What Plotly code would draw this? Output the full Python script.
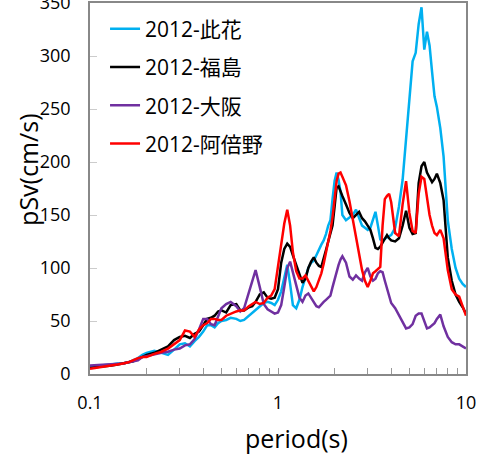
import plotly.graph_objects as go

# periods (s) shared by all four spectra
periods = [0.10, 0.11, 0.12, 0.13, 0.14, 0.15, 0.16, 0.17, 0.18, 0.19,
           0.20, 0.22, 0.24, 0.26, 0.28, 0.30, 0.32, 0.34, 0.36, 0.38,
           0.40, 0.42, 0.44, 0.46, 0.48, 0.50, 0.53, 0.56, 0.60, 0.63,
           0.66, 0.70, 0.73, 0.76, 0.80, 0.84, 0.88, 0.92, 0.96, 1.00,
           1.04, 1.08, 1.12, 1.16, 1.20, 1.25, 1.30, 1.35, 1.40, 1.45,
           1.50, 1.55, 1.60, 1.65, 1.70, 1.75, 1.80, 1.85, 1.90, 1.95,
           2.00, 2.05, 2.10, 2.15, 2.20, 2.30, 2.40, 2.50, 2.60, 2.70,
           2.80, 2.90, 3.00, 3.10, 3.20, 3.30, 3.40, 3.50, 3.60, 3.70,
           3.80, 3.90, 4.00, 4.20, 4.40, 4.60, 4.80, 5.00, 5.20, 5.40,
           5.60, 5.80, 6.00, 6.20, 6.40, 6.60, 6.80, 7.00, 7.30, 7.60,
           8.00, 8.40, 8.80, 9.20, 9.60, 10.0]

# pSv (cm/s)
konohana = [7, 7.5, 8, 9, 10, 10, 11, 13, 15, 18,
            20, 22, 20, 18, 23, 28, 29, 26, 31, 35,
            40, 46, 46, 44, 48, 50, 51, 53, 52, 50,
            51, 55, 57, 60, 64, 67, 68, 67, 65, 70,
            78, 92, 103, 85, 65, 62, 70, 82, 92, 100,
            105, 107, 112, 118, 122, 126, 132, 140, 145, 165,
            182, 190, 183, 172, 150, 145, 148, 150, 155, 148,
            140, 138, 136, 138, 145, 153, 140, 127, 126, 128,
            129, 130, 131, 138, 158, 183, 222, 255, 295, 303,
            330, 346, 306, 323, 310, 285, 262, 252, 232, 205,
            145, 118, 100, 90, 85, 82]

fukushima = [6, 6.5, 7, 8, 9, 10, 11, 12, 14, 16,
             18, 20, 23, 26, 32, 35, 36, 34, 38, 40,
             46, 52, 53, 55, 59, 60, 58, 65, 66, 60,
             60, 63, 64, 68, 75, 77, 72, 71, 72, 80,
             105, 118, 123, 120, 112, 103, 94, 86, 90, 100,
             106, 110, 105, 102, 101, 108, 117, 125, 132, 140,
             158, 176, 177, 172, 168, 160, 152, 147, 150, 153,
             147, 144, 140, 136, 128, 119, 118, 120, 124, 128,
             131, 128, 126, 125, 128, 140, 154, 138, 132, 133,
             180, 196, 200, 190, 185, 181, 184, 189, 180, 164,
             110, 88, 75, 68, 63, 57]

osaka = [8, 8.5, 9, 9, 10, 10, 11, 12, 13, 16,
         17, 19, 20, 21, 23, 24, 27, 28, 33, 42,
         52, 52, 47, 46, 55, 62, 66, 68, 64, 59,
         62, 78, 87, 98, 82, 66, 61, 59, 57, 58,
         65, 82, 100, 106, 96, 84, 72, 68, 74, 76,
         72, 67, 64, 63, 66, 68, 70, 72, 74, 82,
         90, 96, 103, 108, 111, 105, 92, 89, 93, 90,
         88, 96, 100, 92, 88, 90, 95, 97, 96, 88,
         80, 72, 67, 62, 55, 49, 43, 44, 47, 55,
         57, 57, 50, 43, 44, 46, 48, 52, 56, 45,
         35, 30, 28, 28, 26, 24]

abeno = [5, 6, 7, 8, 9, 10, 11, 13, 15, 16,
         16, 19, 21, 24, 28, 32, 41, 40, 35, 42,
         46, 48, 52, 52, 51, 51, 55, 57, 59, 60,
         60, 64, 66, 68, 66, 67, 72, 74, 80, 100,
         122, 142, 155, 140, 115, 97, 90, 90, 93, 88,
         82, 78, 82, 88, 95, 104, 114, 125, 135, 148,
         165, 182, 189, 190, 186, 178, 163, 146, 128, 112,
         98, 88, 82, 88, 95, 97, 99, 101, 140, 165,
         168, 170, 162, 133, 130, 160, 182, 152, 135, 133,
         170, 186, 184, 168, 150, 140, 133, 131, 136, 128,
         98, 80, 75, 73, 64, 55]

series = [
    ("2012-此花", konohana, "#00B0F0"),
    ("2012-福島", fukushima, "#000000"),
    ("2012-大阪", osaka, "#7030A0"),
    ("2012-阿倍野", abeno, "#FF0000"),
]

FONT = "Open Sans, Noto Sans CJK JP, sans-serif"

fig = go.Figure()
for name, vals, color in series:
    fig.add_trace(go.Scatter(
        x=periods, y=vals, name=name, mode="lines",
        legendgroup=name,
        line=dict(color=color, width=2.5),
    ))

fig.update_layout(
    width=490, height=455,
    paper_bgcolor="white", plot_bgcolor="white",
    font=dict(family=FONT, color="black", size=18),
    margin=dict(l=90, r=24, t=3, b=81),
    showlegend=True,
    legend=dict(
        x=0.04, y=0.985, xanchor="left", yanchor="top",
        bgcolor="rgba(0,0,0,0)",
        font=dict(size=21, family=FONT),
        tracegroupgap=8,
        itemwidth=30,
    ),
)

fig.update_xaxes(
    type="log", range=[-1, 1],
    tickvals=[0.1, 1, 10], ticktext=["0.1", "1", "10"],
    ticks="inside", ticklen=6, tickcolor="#999999",
    minor=dict(ticks="inside", ticklen=6, tickcolor="#999999", dtick="D1", showgrid=False),
    showgrid=False, zeroline=False, automargin=False,
    showline=True, linecolor="#888888", linewidth=1.5, mirror=True,
    ticklabelstandoff=12,
    tickfont=dict(size=18),
)
fig.update_yaxes(
    range=[0, 350], dtick=50,
    ticks="inside", ticklen=7, tickcolor="#cccccc",
    showgrid=False, zeroline=False, automargin=False,
    showline=True, linecolor="#888888", linewidth=1.5, mirror=True,
    ticklabelstandoff=14, ticklabeloverflow="allow",
    tickfont=dict(size=18),
)

# axis titles placed as in the original
fig.add_annotation(
    text="period(s)", xref="paper", yref="paper",
    x=0.548, y=-0.122, xanchor="center", yanchor="top",
    showarrow=False, font=dict(size=25),
)
fig.add_annotation(
    text="pSv(cm/s)", xref="paper", yref="paper",
    x=-0.165, y=0.55, xanchor="center", yanchor="middle",
    textangle=-90, showarrow=False, font=dict(size=25),
)

fig.write_html("out.html", config={"displayModeBar": False},
               post_script="document.body.style.margin='0';")
